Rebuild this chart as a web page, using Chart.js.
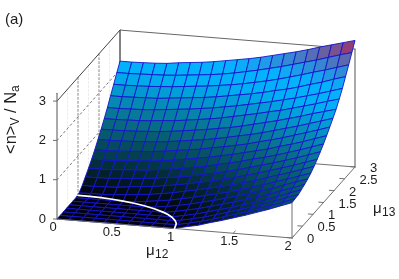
<!DOCTYPE html>
<html>
<head>
<meta charset="utf-8">
<title>Surface</title>
<script src="https://cdn.jsdelivr.net/npm/chart.js@4"></script>
<style>
  html, body { margin: 0; padding: 0; background: #fff; }
  canvas { display: block; }
</style>
</head>
<body>
<canvas id="chart" width="399" height="279"></canvas>
<script>
  // grid of the surface, one row of heights per mu13 value
  const mu12Values = [0, 0.1, 0.2, 0.3, 0.4, 0.5, 0.6, 0.7, 0.8, 0.9, 1, 1.1, 1.2, 1.3, 1.4, 1.5, 1.6, 1.7, 1.8, 1.9, 2];
  const mu13Values = [0, 0.15, 0.3, 0.45, 0.6, 0.75, 0.9, 1.05, 1.2, 1.35, 1.5, 1.65, 1.8, 1.95, 2.1, 2.25, 2.4, 2.55, 2.7, 2.85, 3];
  const heightRows = [
    [0, 0, 0, 0, 0, 0, 0, 0, 0, 0, 0, 0.07, 0.13, 0.22, 0.30, 0.39, 0.48, 0.58, 0.68, 0.79, 0.90],
    [0, 0, 0, 0, 0, 0, 0, 0, 0, 0, 0.01, 0.07, 0.14, 0.22, 0.31, 0.40, 0.49, 0.59, 0.69, 0.80, 0.91],
    [0, 0, 0, 0, 0, 0, 0, 0, 0, 0, 0.03, 0.09, 0.16, 0.24, 0.33, 0.42, 0.51, 0.61, 0.71, 0.82, 0.92],
    [0, 0, 0, 0, 0, 0, 0, 0, 0, 0, 0.06, 0.12, 0.20, 0.28, 0.36, 0.45, 0.54, 0.64, 0.74, 0.85, 0.96],
    [0, 0, 0, 0, 0, 0, 0, 0, 0, 0.05, 0.11, 0.17, 0.25, 0.33, 0.41, 0.50, 0.59, 0.68, 0.79, 0.89, 1.00],
    [0, 0, 0, 0, 0, 0, 0, 0.02, 0.06, 0.11, 0.17, 0.24, 0.31, 0.39, 0.47, 0.56, 0.65, 0.74, 0.85, 0.95, 1.05],
    [0, 0, 0, 0, 0, 0.02, 0.05, 0.09, 0.13, 0.19, 0.25, 0.32, 0.39, 0.46, 0.54, 0.63, 0.72, 0.82, 0.91, 1.01, 1.11],
    [0.03, 0.04, 0.04, 0.06, 0.08, 0.11, 0.14, 0.18, 0.23, 0.29, 0.35, 0.41, 0.48, 0.55, 0.63, 0.71, 0.81, 0.90, 0.99, 1.09, 1.19],
    [0.13, 0.13, 0.14, 0.16, 0.19, 0.22, 0.25, 0.29, 0.34, 0.39, 0.45, 0.51, 0.58, 0.65, 0.73, 0.81, 0.90, 0.99, 1.08, 1.18, 1.28],
    [0.26, 0.26, 0.27, 0.29, 0.31, 0.34, 0.37, 0.41, 0.45, 0.50, 0.56, 0.62, 0.69, 0.76, 0.84, 0.92, 1.00, 1.09, 1.18, 1.28, 1.38],
    [0.39, 0.39, 0.40, 0.42, 0.44, 0.46, 0.50, 0.53, 0.58, 0.63, 0.68, 0.75, 0.81, 0.88, 0.96, 1.03, 1.11, 1.20, 1.29, 1.39, 1.49],
    [0.53, 0.53, 0.54, 0.56, 0.58, 0.60, 0.64, 0.67, 0.72, 0.77, 0.82, 0.88, 0.94, 1.01, 1.08, 1.15, 1.24, 1.32, 1.41, 1.51, 1.61],
    [0.68, 0.68, 0.69, 0.71, 0.73, 0.75, 0.79, 0.83, 0.87, 0.91, 0.97, 1.02, 1.08, 1.14, 1.22, 1.29, 1.37, 1.46, 1.55, 1.64, 1.74],
    [0.85, 0.85, 0.86, 0.87, 0.89, 0.91, 0.94, 0.98, 1.02, 1.06, 1.11, 1.17, 1.23, 1.29, 1.36, 1.44, 1.52, 1.60, 1.69, 1.78, 1.87],
    [1.02, 1.02, 1.03, 1.04, 1.06, 1.08, 1.11, 1.15, 1.19, 1.23, 1.28, 1.33, 1.39, 1.46, 1.53, 1.60, 1.68, 1.76, 1.85, 1.93, 2.01],
    [1.20, 1.20, 1.21, 1.22, 1.24, 1.27, 1.29, 1.33, 1.37, 1.41, 1.46, 1.52, 1.58, 1.64, 1.71, 1.77, 1.85, 1.93, 2.01, 2.10, 2.18],
    [1.39, 1.39, 1.40, 1.41, 1.43, 1.46, 1.49, 1.52, 1.56, 1.60, 1.65, 1.70, 1.76, 1.82, 1.88, 1.95, 2.02, 2.10, 2.18, 2.27, 2.36],
    [1.60, 1.60, 1.61, 1.62, 1.63, 1.66, 1.69, 1.72, 1.75, 1.79, 1.84, 1.89, 1.94, 2.00, 2.07, 2.13, 2.21, 2.30, 2.38, 2.48, 2.57],
    [1.80, 1.80, 1.81, 1.82, 1.84, 1.86, 1.89, 1.92, 1.95, 1.99, 2.03, 2.08, 2.14, 2.20, 2.27, 2.35, 2.43, 2.52, 2.60, 2.69, 2.78],
    [2.01, 2.01, 2.02, 2.03, 2.04, 2.06, 2.09, 2.12, 2.15, 2.19, 2.24, 2.30, 2.36, 2.43, 2.50, 2.58, 2.66, 2.74, 2.83, 2.92, 3.00],
    [2.21, 2.21, 2.22, 2.23, 2.25, 2.29, 2.32, 2.35, 2.39, 2.44, 2.49, 2.54, 2.60, 2.67, 2.74, 2.81, 2.89, 2.98, 3.06, 3.14, 3.22]
  ];

  // white curve on the floor
  const arcMu12 = [0, 0.1, 0.2, 0.3, 0.4, 0.5, 0.6, 0.7, 0.8, 0.85, 0.9, 0.95, 0.98, 1];
  const arcMu13 = [1, 0.995, 0.98, 0.954, 0.917, 0.866, 0.8, 0.714, 0.6, 0.527, 0.436, 0.312, 0.199, 0];

  const mu12Ticks = [0, 0.5, 1, 1.5, 2];
  const mu13Ticks = [0, 0.5, 1, 1.5, 2, 2.5, 3];
  const zTicks = [0, 1, 2, 3];

  // palette stops, height -> colour
  const paletteZ = [0, 0.24, 0.62, 1.07, 1.42, 2, 2.35, 2.7, 3, 3.2];
  const paletteRGB = [[0, 0, 12], [2, 24, 30], [4, 62, 78], [8, 100, 122], [6, 130, 168], [0, 176, 246], [5, 178, 255], [60, 130, 205], [125, 80, 140], [175, 30, 85]];

  const MESH = '#1414cc';
  const AXIS = '#707070';

  // gnuplot style view, all in page pixels
  function project(a, b, z) {
    return { x: 57 + 117.5 * a + 21 * b, y: 219 + 9.5 * a - 23.67 * b - 39.3 * z };
  }

  function colorFor(z) {
    let i = 0;
    while (i < paletteZ.length - 2 && z > paletteZ[i + 1]) i++;
    const t = Math.min(1, (z - paletteZ[i]) / (paletteZ[i + 1] - paletteZ[i]));
    const c = paletteRGB[i].map((v, k) => Math.round(v + (paletteRGB[i + 1][k] - v) * t));
    return `rgb(${c[0]},${c[1]},${c[2]})`;
  }

  function lineSet(points, color, width, dash) {
    return {
      data: points.map(p => project(p[0], p[1], p[2])),
      showLine: true, fill: false, borderColor: color, borderWidth: width,
      borderDash: dash || [], pointRadius: 0, tension: 0, borderCapStyle: 'round'
    };
  }

  // datasets draw last to first, so nearest things go first
  const datasets = [];

  datasets.push(lineSet(arcMu12.map((a, i) => [a, arcMu13[i], 0]), '#ffffff', 1.7));
  datasets.push(lineSet([[0, 0, 0], [2, 0, 0]], AXIS, 1));
  datasets.push(lineSet([[2, 0, 0], [2, 3, 0]], AXIS, 1));

  for (let j = 0; j < mu13Values.length - 1; j++) {
    for (let i = mu12Values.length - 2; i >= 0; i--) {
      const a0 = mu12Values[i], a1 = mu12Values[i + 1];
      const b0 = mu13Values[j], b1 = mu13Values[j + 1];
      const z00 = heightRows[j][i], z10 = heightRows[j][i + 1];
      const z01 = heightRows[j + 1][i], z11 = heightRows[j + 1][i + 1];
      datasets.push({
        data: [[a0, b0, z00], [a1, b0, z10], [a1, b1, z11], [a0, b1, z01], [a0, b0, z00]].map(p => project(p[0], p[1], p[2])),
        showLine: true, fill: 'shape', backgroundColor: colorFor((z00 + z10 + z01 + z11) / 4),
        borderColor: MESH, borderWidth: 0.9, pointRadius: 0, tension: 0
      });
    }
  }

  // box
  datasets.push(lineSet([[0, 0, 0], [0, 0, 3.2]], AXIS, 1.2));
  datasets.push(lineSet([[0, 0, 3], [0, 3, 3]], '#444444', 1));
  datasets.push(lineSet([[0, 3, 3], [0, 3, 0]], AXIS, 1));
  datasets.push(lineSet([[0, 3, 3], [2, 3, 3]], '#666666', 1));
  datasets.push(lineSet([[2, 3, 3], [2, 3, 0]], AXIS, 1.2));
  datasets.push(lineSet([[2, 0, 0], [2, 0, 1]], AXIS, 1));
  datasets.push(lineSet([[0, 3, 0], [2, 3, 0]], AXIS, 1));

  // ticks
  zTicks.forEach(t => {
    const from = project(0, 0, t);
    datasets.push({ data: [{ x: from.x - 4, y: from.y }, from], showLine: true, borderColor: AXIS, borderWidth: 1, pointRadius: 0 });
  });
  mu12Ticks.forEach(t => datasets.push(lineSet([[t, 0, 0], [t, 0.1, 0]], AXIS, 1)));
  mu13Ticks.forEach(t => datasets.push(lineSet([[2, t, 0], [1.96, t, 0]], AXIS, 1)));

  // dotted wall grid
  [1, 2].forEach(t => datasets.push(lineSet([[0, 0, t], [0, 3, t]], '#777777', 1, [2, 3])));
  [1, 2].forEach(t => datasets.push(lineSet([[0, t, 0], [0, t, 3]], '#888888', 1, [2, 2])));
  [0.5, 1.5, 2.5].forEach(t => datasets.push(lineSet([[0, t, 0], [0, t, 3]], '#ececec', 1, [2, 2])));

  const TEXT = '#1c1c1c';

  const labelPlugin = {
    id: 'labelPlugin',
    afterDraw(chart) {
      const { ctx, scales } = chart;
      const px = (v) => scales.x.getPixelForValue(v);
      const py = (v) => scales.y.getPixelForValue(v);
      ctx.save();
      ctx.fillStyle = TEXT;
      ctx.textBaseline = 'middle';
      ctx.font = '13px "Liberation Sans", Arial, sans-serif';

      ctx.textAlign = 'right';
      zTicks.forEach(t => {
        const p = project(0, 0, t);
        ctx.fillText(String(t), px(p.x - 11), py(p.y));
      });
      ctx.textAlign = 'center';
      mu12Ticks.forEach(t => {
        const p = project(t, 0, 0);
        ctx.fillText(String(t), px(p.x - 4), py(p.y + 8.5));
      });
      ctx.textAlign = 'left';
      mu13Ticks.forEach(t => {
        const p = project(2, t, 0);
        ctx.fillText(String(t), px(p.x + 15), py(p.y + 1.5));
      });

      ctx.font = '15px "Liberation Sans", Arial, sans-serif';
      ctx.fillText('(a)', px(5), py(20));

      ctx.font = '15px "Liberation Sans", Arial, sans-serif';
      ctx.fillText('\u03bc', px(146), py(251));
      ctx.fillText('\u03bc', px(373), py(209));
      ctx.font = '12px "Liberation Sans", Arial, sans-serif';
      ctx.fillText('12', px(155), py(255));
      ctx.fillText('13', px(382), py(213));

      // rotated z title, built from pieces so the subscripts sit right
      ctx.save();
      ctx.translate(px(11), py(154));
      ctx.rotate(-Math.PI / 2);
      ctx.textAlign = 'left';
      let cur = 0;
      const piece = (s, font, dy) => {
        ctx.font = font;
        ctx.fillText(s, cur, dy);
        cur += ctx.measureText(s).width;
      };
      const big = '16.5px "Liberation Sans", Arial, sans-serif';
      const small = '12px "Liberation Sans", Arial, sans-serif';
      piece('<n>', big, 0);
      piece('V', small, 5);
      piece(' / N', big, 0);
      piece('a', small, 5);
      ctx.restore();
      ctx.restore();
    }
  };

  new Chart(document.getElementById('chart').getContext('2d'), {
    type: 'scatter',
    data: { datasets },
    options: {
      responsive: false,
      animation: false,
      layout: { padding: 0 },
      clip: false,
      scales: {
        x: { type: 'linear', display: false, min: 0, max: 399 },
        y: { type: 'linear', display: false, min: 0, max: 279, reverse: true }
      },
      plugins: { legend: { display: false }, tooltip: { enabled: false } }
    },
    plugins: [labelPlugin]
  });
</script>
</body>
</html>
